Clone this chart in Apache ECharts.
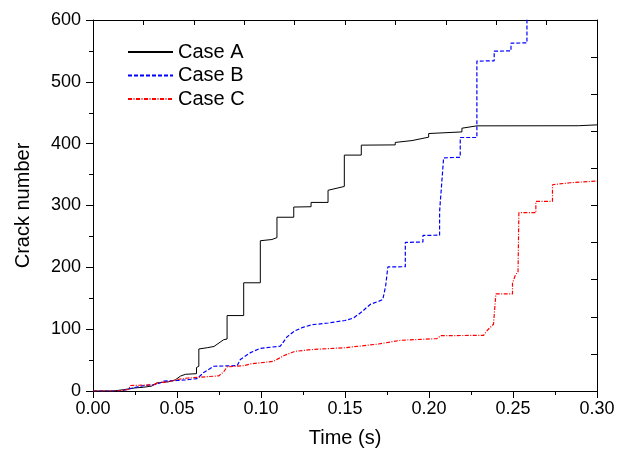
<!DOCTYPE html>
<html>
<head>
<meta charset="utf-8">
<script src="https://cdn.jsdelivr.net/npm/echarts@6/dist/echarts.min.js"></script>
<style>
html,body{margin:0;padding:0;background:#fff;}
#chart{width:627px;height:456px;}
</style>
</head>
<body>
<div id="chart"></div>
<script>
var seriesNames = ['Case A', 'Case B', 'Case C'];
var xTickLabels = ['0.00','0.05','0.10','0.15','0.20','0.25','0.30'];
var yTickLabels = ['0','100','200','300','400','500','600'];

var caseA = [[0,0],[0.012,0],[0.018,2],[0.025,5],[0.03,6],[0.035,8],[0.038,13],[0.045,15],[0.049,18],[0.052,24],[0.055,27],[0.0616,28],[0.0616,38],[0.063,40],[0.063,68],[0.068,70],[0.072,72],[0.0778,83],[0.0798,84],[0.0798,122],[0.0897,122],[0.0897,175],[0.0996,175],[0.0996,243],[0.1065,245],[0.1095,248],[0.1095,281],[0.1195,281],[0.1195,297.5],[0.1298,298],[0.1298,305],[0.1399,305],[0.1399,324.6],[0.1496,330.8],[0.1496,381.5],[0.1597,381.5],[0.1597,397.6],[0.1799,398],[0.1799,402],[0.1899,405],[0.1998,410.5],[0.1998,416.4],[0.2196,419],[0.2196,425],[0.2285,428.8],[0.2888,429],[0.2888,430.4],[0.30,430.4]];

var caseB = [[0,0],[0.015,0],[0.018,1],[0.0283,8],[0.0382,11],[0.0421,16],[0.05,17],[0.055,18],[0.062,20],[0.0659,30],[0.0719,40],[0.0858,41],[0.0877,51],[0.0937,62],[0.0996,69],[0.1115,72.5],[0.1155,87.5],[0.12,97],[0.125,103],[0.13,107],[0.14,110],[0.15,114],[0.155,118],[0.16,128],[0.165,140],[0.17,145],[0.1725,148],[0.1742,170],[0.1755,200.6],[0.1859,201],[0.1859,240.3],[0.1964,241],[0.1964,251.6],[0.2063,252],[0.2063,290],[0.2087,377],[0.2186,378],[0.2186,410],[0.2285,410],[0.2285,533.5],[0.2388,534],[0.2388,549.7],[0.2488,550],[0.2488,562.6],[0.2583,563],[0.2583,620]];

var caseC = [[0,0],[0.0144,0],[0.0213,2.4],[0.0223,8.9],[0.0362,10],[0.0382,13],[0.045,15],[0.05,18.5],[0.0565,21],[0.0749,24.5],[0.0778,31],[0.0798,39],[0.0897,41],[0.0937,43.8],[0.1075,48],[0.1135,57],[0.12,64],[0.13,67],[0.15,70],[0.16,73],[0.17,76],[0.183,82],[0.2047,84.7],[0.207,89.5],[0.2325,90],[0.235,99],[0.2384,108],[0.2398,157],[0.2497,157],[0.2497,174.5],[0.2515,188],[0.253,193],[0.2535,288.4],[0.2636,288.4],[0.2636,306.8],[0.2735,306.8],[0.2735,333.6],[0.284,336.8],[0.30,339.5]];

var FONT = '"Liberation Sans", Arial, sans-serif';
var chart = echarts.init(document.getElementById('chart'), null, {renderer:'canvas'});

function lineSeries(name, data, color, type, width){
  return {
    name: name, type:'line', data: data, symbol:'none', showSymbol:false,
    xAxisIndex:0, yAxisIndex:0, clip:true, animation:false,
    lineStyle:{color:color, width:width, type:type},
    itemStyle:{color:color}
  };
}

chart.setOption({
  animation:false,
  backgroundColor:'#fff',
  grid:{left:93, right:30, top:20, bottom:65},
  legend:{
    orient:'vertical', left:127, top:42, padding:0,
    itemWidth:45, itemHeight:14, itemGap:3.5,
    itemStyle:{opacity:0, color:'transparent', borderColor:'transparent', borderWidth:0},
    textStyle:{fontFamily:FONT, fontSize:20, color:'#000'},
    data: seriesNames
  },
  xAxis:[{
    type:'value', min:0, max:0.3, interval:0.05, position:'bottom',
    name:'Time (s)', nameLocation:'middle', nameGap:37,
    nameTextStyle:{fontFamily:FONT, fontSize:20, color:'#000'},
    axisLine:{onZero:false, lineStyle:{color:'#000', width:1}},
    axisTick:{show:true, inside:false, length:7, lineStyle:{color:'#000'}},
    minorTick:{show:true, splitNumber:2, length:4, lineStyle:{color:'#000'}},
    splitLine:{show:false},
    axisLabel:{margin:9, fontFamily:FONT, fontSize:18, color:'#000',
      formatter:function(v){ var i=Math.round(v/0.05); return xTickLabels[i]; }}
  },{
    type:'value', min:0, max:10, interval:1, position:'top',
    axisLine:{onZero:false, lineStyle:{color:'#000', width:1}},
    axisTick:{show:true, inside:true, length:5, lineStyle:{color:'#000'}},
    axisLabel:{show:false}, splitLine:{show:false}
  }],
  yAxis:[{
    type:'value', min:0, max:600, interval:100, position:'left',
    name:'Crack number', nameLocation:'middle', nameGap:60, nameRotate:90,
    nameTextStyle:{fontFamily:FONT, fontSize:20, color:'#000'},
    axisLine:{show:true, onZero:false, lineStyle:{color:'#000', width:1}},
    axisTick:{show:true, inside:false, length:7, lineStyle:{color:'#000'}},
    minorTick:{show:true, splitNumber:2, length:4, lineStyle:{color:'#000'}},
    splitLine:{show:false},
    axisLabel:{margin:12, fontFamily:FONT, fontSize:18, color:'#000',
      formatter:function(v){ return yTickLabels[Math.round(v/100)]; }}
  },{
    type:'value', min:0, max:10, interval:1, position:'right',
    axisLine:{show:true, onZero:false, lineStyle:{color:'#000', width:1}},
    axisTick:{show:true, inside:true, length:6, lineStyle:{color:'#000'}},
    axisLabel:{show:false}, splitLine:{show:false}
  }],
  series:[
    lineSeries(seriesNames[0], caseA, '#000000', 'solid', 1),
    lineSeries(seriesNames[1], caseB, '#0000ff', [4,2], 1.2),
    lineSeries(seriesNames[2], caseC, '#ff0000', [4,1.5,1,1.5], 1.2)
  ]
});
</script>
</body>
</html>
